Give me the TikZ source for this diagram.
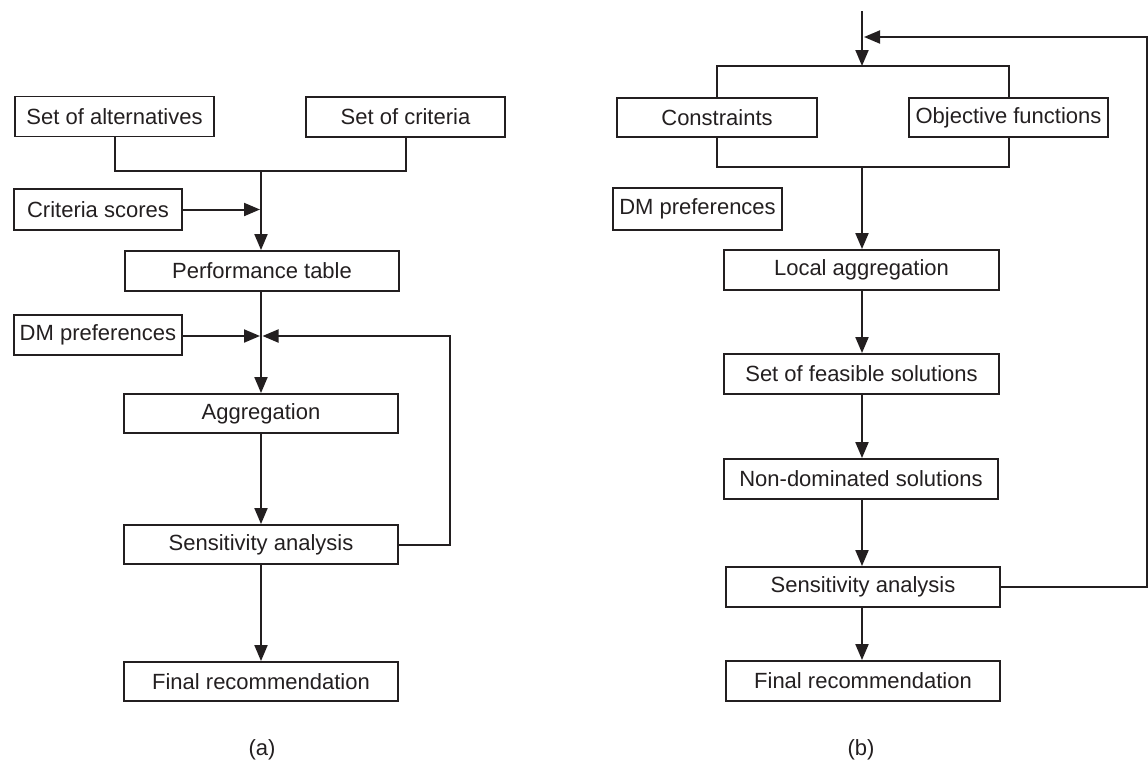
\documentclass[tikz,border=0pt]{standalone}
\usepackage{fontspec}
\setmainfont{Liberation Sans}
\usetikzlibrary{arrows.meta}
\definecolor{ink}{RGB}{35,31,32}
\begin{document}
\begin{tikzpicture}[x=1pt,y=-1pt,
  every node/.style={font=\fontsize{22}{26}\selectfont, text=ink},
  box/.style={draw=ink, line width=1.9pt, inner sep=0pt, minimum height=40pt},
  link/.style={draw=ink, line width=2pt},
  arr/.style={link, -{Triangle[length=16pt,width=13pt]}}]
\useasboundingbox (0,0) rectangle (1148,769);

% ---- (a) classical MCDA procedure ----
\node[box, minimum width=199pt] (alt)    at (114.5,116.5) {Set of alternatives};
\node[box, minimum width=199pt] (crit)   at (405.5,117)   {Set of criteria};
\node[box, minimum width=168pt, minimum height=41pt] (scores) at (98,209.5) {Criteria scores};
\node[box, minimum width=274pt] (perf)   at (262,271)     {Performance table};
\node[box, minimum width=168pt] (dmA)    at (98,335)      {DM preferences};
\node[box, minimum width=274pt, minimum height=39pt] (agg)  at (261,413.5) {Aggregation};
\node[box, minimum width=274pt, minimum height=39pt] (sensA) at (261,544.5) {Sensitivity analysis};
\node[box, minimum width=274pt, minimum height=39pt] (finA) at (261,681.5) {Final recommendation};
\node (labA) at (262,750) {(a)};

\coordinate (jtop) at (261,171);
\coordinate (sctip) at (260,209.5);
\coordinate (dmtip) at (260,336);
\coordinate (fbA) at (450,336);
\coordinate (fbAtip) at (262.5,336);

\draw[link] (alt.south) -- (alt.south |- jtop) -- (crit.south |- jtop) -- (crit.south);
\draw[arr] (jtop) -- (jtop |- perf.north);
\draw[arr] (scores.east) -- (sctip);
\draw[arr] (perf.south -| jtop) -- (agg.north -| jtop);
\draw[arr] (dmA.east |- dmtip) -- (dmtip);
\draw[arr] (sensA.east) -| (fbA) -- (fbAtip);
\draw[arr] (agg.south -| jtop) -- (sensA.north -| jtop);
\draw[arr] (sensA.south -| jtop) -- (finA.north -| jtop);

% ---- (b) multi-objective procedure ----
\node[box, minimum width=200pt, minimum height=39pt] (cons) at (717,117.5)  {Constraints};
\node[box, minimum width=199pt, minimum height=39pt] (obj)  at (1008.5,117.5) {Objective functions};
\node[box, minimum width=169pt, minimum height=42pt] (dmB)  at (697.5,209) {DM preferences};
\node[box, minimum width=275pt] (loc)    at (861.5,270) {Local aggregation};
\node[box, minimum width=275pt] (feas)   at (861.5,374) {Set of feasible solutions};
\node[box, minimum width=274pt] (nondom) at (861,479)   {Non-dominated solutions};
\node[box, minimum width=274pt] (sensB)  at (863,587)   {Sensitivity analysis};
\node[box, minimum width=274pt] (finB)   at (863,681)   {Final recommendation};
\node (labB) at (861,750) {(b)};

\coordinate (topB) at (862,11);
\coordinate (brT) at (862,66);
\coordinate (brB) at (862,167);
\coordinate (fbB) at (1146.5,37);
\coordinate (fbBtip) at (864,37);

\draw[arr] (topB) -- (brT);
\draw[link] (cons.north) -- (cons.north |- brT) -- (obj.north |- brT) -- (obj.north);
\draw[link] (cons.south) -- (cons.south |- brB) -- (obj.south |- brB) -- (obj.south);
\draw[arr] (brB) -- (brB |- loc.north);
\draw[arr] (loc.south -| brB) -- (feas.north -| brB);
\draw[arr] (feas.south -| brB) -- (nondom.north -| brB);
\draw[arr] (nondom.south -| brB) -- (sensB.north -| brB);
\draw[arr] (sensB.south -| brB) -- (finB.north -| brB);
\draw[arr] (sensB.east) -| (fbB) -- (fbBtip);
\end{tikzpicture}
\end{document}
